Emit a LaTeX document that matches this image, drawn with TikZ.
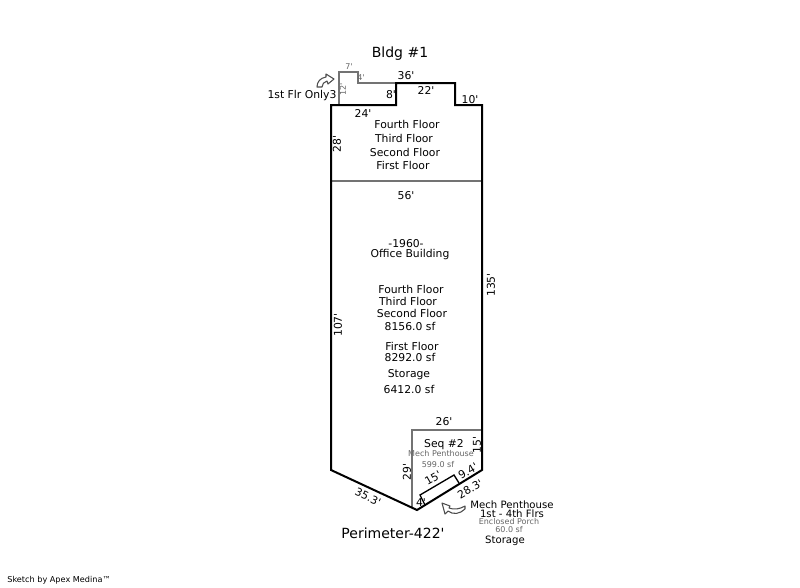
\documentclass[tikz,border=0pt]{standalone}
\usepackage{fontspec}
\setmainfont{DejaVu Sans}[Ligatures=TeXOff]

\begin{document}
\begin{tikzpicture}
    [x=0.75pt,y=-0.75pt,every node/.style={inner sep=0pt, font=\fontsize{8.1}{9}\selectfont, text=black},
     wall/.style={line width=1.5pt, line join=miter},
     inner wall/.style={line width=1.3pt, color=black!55},
     grey label/.style={font=\fontsize{6}{7}\selectfont, text=black!60},
     big label/.style={font=\fontsize{10.5}{12}\selectfont},
     curl/.style={line width=0.8pt, color=black!70, fill=white, line join=round}]
  \useasboundingbox (0,0) rectangle (800,587);

  % outline
  \draw[inner wall] (339,105) -- (339,72) -- (358,72) -- (358,83) -- (396,83);
  \draw[inner wall] (331,181) -- (482,181);
  \draw[inner wall] (412,508) -- (412,430) -- (482,430);
  \draw[wall] (331,105) -- (396,105) -- (396,83) -- (455,83) -- (455,105) -- (482,105)
    -- (482,470) -- (417,510) -- (331,470) -- cycle;
  \draw[line width=1pt] (425,505) -- (420,495) -- (454,475) -- (459,483);

  % curved arrows
  \draw[curl] (317,87) .. controls (317,82) and (320,78) .. (326,77) -- (326,74) -- (334,79) -- (328,84)
    -- (327,81) .. controls (324,82) and (322,84) .. (322,87) -- cycle;
  \draw[curl] (442,503) -- (450,506) -- (449,508) .. controls (454,510) and (460,509) .. (465,506)
    -- (465,509) .. controls (460,514) and (453,515) .. (448,511) -- (445,514) -- cycle;

  % titles
  \node[big label] (title) at (400,54) {Bldg \#1};
  \node[big label] (perim) at (393,533) {Perimeter-422'};
  \node[font=\fontsize{6.1}{7}\selectfont] (credit) at (59,580) {Sketch by Apex Medina™};

  % dimensions
  \node[grey label] (d7) at (349,67) {7'};
  \node[grey label] (d4a) at (361,78) {4'};
  \node[grey label, rotate=90] (d12) at (343,89) {12'};
  \node (d36) at (406,76) {36'};
  \node (d22) at (426,90) {22'};
  \node (d8) at (391,95) {8'};
  \node (d10) at (470,100) {10'};
  \node (d24) at (363,113) {24'};
  \node[rotate=90] (d28) at (337,144) {28'};
  \node (d56) at (406,196) {56'};
  \node[rotate=90] (d107) at (338,325) {107'};
  \node[rotate=90] (d135) at (491,285) {135'};
  \node (d26) at (444,422) {26'};
  \node[rotate=90] (d15a) at (477,445) {15'};
  \node[rotate=90] (d29) at (407,472) {29'};
  \node[rotate=30] (d15b) at (433,478) {15'};
  \node[rotate=30] (d94) at (468,471) {9.4'};
  \node[rotate=30] (d283) at (470,489) {28.3'};
  \node[rotate=-25] (d353) at (368,497) {35.3'};
  \node (d4b) at (421,503) {4'};

  % area labels
  \node (only) at (302,96) {1st Flr Only3};
  \node (f4a) at (407,124) {Fourth Floor};
  \node (f3a) at (404,138) {Third Floor};
  \node (f2a) at (405,152) {Second Floor};
  \node (f1a) at (403,165) {First Floor};
  \node (year) at (406,244) {-1960-};
  \node (use) at (410,255) {Office Building};
  \node (f4b) at (411,289) {Fourth Floor};
  \node (f3b) at (408,301) {Third Floor};
  \node (f2b) at (412,313) {Second Floor};
  \node (a1) at (410,326) {8156.0 sf};
  \node (f1b) at (412,346) {First Floor};
  \node (a2) at (410,357) {8292.0 sf};
  \node (st1) at (409,375) {Storage};
  \node (a3) at (409,389) {6412.0 sf};
  \node (seq) at (444,445) {Seq \#2};
  \node[grey label] (mp1) at (441,454) {Mech Penthouse};
  \node[grey label] (a4) at (438,465) {599.0 sf};
  \node[font=\fontsize{7.6}{9}\selectfont] (mp2) at (512,505) {Mech Penthouse};
  \node[font=\fontsize{7.6}{9}\selectfont] (flrs) at (512,514) {1st - 4th Flrs};
  \node[grey label] (porch) at (509,522) {Enclosed Porch};
  \node[grey label] (a5) at (509,530) {60.0 sf};
  \node[font=\fontsize{7.6}{9}\selectfont] (st2) at (505,541) {Storage};
\end{tikzpicture}
\end{document}
